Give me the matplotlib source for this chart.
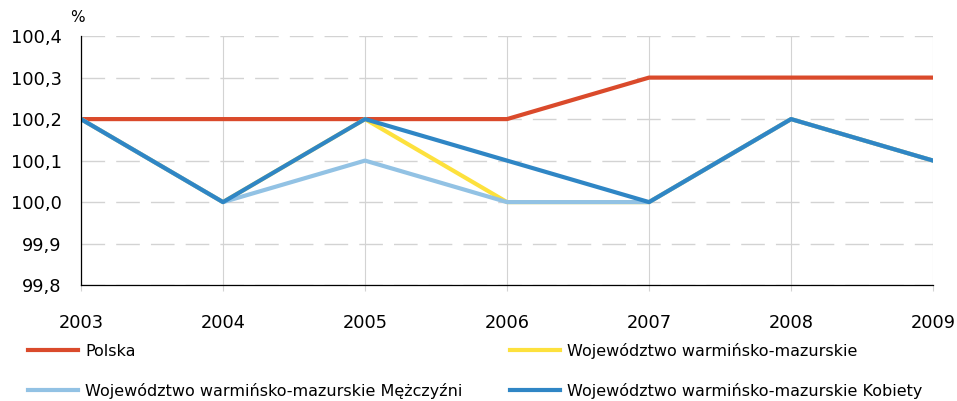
import matplotlib
matplotlib.use("Agg")
import matplotlib.pyplot as plt

# dane
lata = [2003, 2004, 2005, 2006, 2007, 2008, 2009]
polska = [100.2, 100.2, 100.2, 100.2, 100.3, 100.3, 100.3]
wojewodztwo = [100.2, 100.0, 100.2, 100.0, 100.0, 100.2, 100.1]
mezczyzni = [100.2, 100.0, 100.1, 100.0, 100.0, 100.2, 100.1]
kobiety = [100.2, 100.0, 100.2, 100.1, 100.0, 100.2, 100.1]
y_ticks = [99.8, 99.9, 100.0, 100.1, 100.2, 100.3, 100.4]

plt.rcParams['font.family'] = ['DejaVu Sans']

fig = plt.figure(figsize=(9.57, 4.01), dpi=100)
ax = fig.add_axes([0.0846, 0.289, 0.8904, 0.621])

l1, = ax.plot(lata, polska, color='#DA4A2B', lw=3, label='Polska')
l2, = ax.plot(lata, wojewodztwo, color='#FDE13D', lw=3, label='Województwo warmińsko-mazurskie')
l3, = ax.plot(lata, mezczyzni, color='#92C2E4', lw=3, label='Województwo warmińsko-mazurskie Mężczyźni')
l4, = ax.plot(lata, kobiety, color='#2F86C5', lw=3, label='Województwo warmińsko-mazurskie Kobiety')

ax.set_xlim(2003, 2009)
ax.set_ylim(99.8, 100.4)
ax.set_xticks(lata)
ax.set_yticks(y_ticks)
ax.set_yticklabels([f'{v:.1f}'.replace('.', ',') for v in y_ticks])

# siatka
ax.yaxis.grid(True, color='#D3D3D3', lw=1, linestyle=(0, (17, 8)))
ax.xaxis.grid(True, color='#D3D3D3', lw=0.8)
ax.set_axisbelow(True)

for s in ['top', 'right']:
    ax.spines[s].set_visible(False)
ax.spines['left'].set_color('black')
ax.spines['bottom'].set_color('black')
ax.spines['left'].set_linewidth(0.9)
ax.spines['bottom'].set_linewidth(0.9)

ax.tick_params(axis='x', length=4, color='#D3D3D3', pad=17, labelsize=12.8)
ax.tick_params(axis='y', length=0, pad=14, labelsize=12.8)

ax.text(-0.004, 1.045, '%', transform=ax.transAxes, fontsize=11, ha='center', va='bottom')

fig.legend(handles=[l1, l3, l2, l4], ncol=2, loc='lower left',
           bbox_to_anchor=(0.0145, -0.03), frameon=False, fontsize=11.5,
           handlelength=3.1, handletextpad=0.45, columnspacing=3.0,
           labelspacing=1.5)

fig.savefig('out.png', dpi=100)
